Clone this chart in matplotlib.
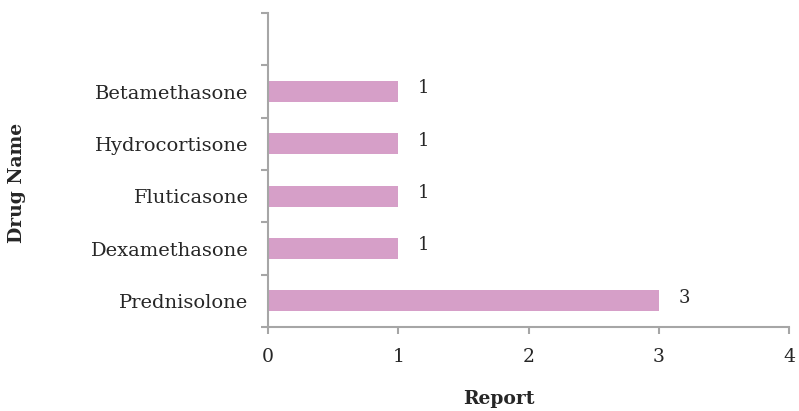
import matplotlib
matplotlib.use('Agg')
import matplotlib.pyplot as plt
from matplotlib.ticker import MultipleLocator

# drug report counts, bottom to top
drugs = ['Prednisolone', 'Dexamethasone', 'Fluticasone', 'Hydrocortisone', 'Betamethasone']
reports = [3, 1, 1, 1, 1]

bar_color = '#D69FC8'
axis_color = '#A6A6A6'
text_color = '#262626'

plt.rcParams['font.family'] = ['DejaVu Serif']

fig = plt.figure(figsize=(7.99, 4.11), dpi=100)
ax = fig.add_axes([268/799, 1 - 327/411, 521/799, 314/411])

pos = list(range(len(drugs)))
ax.barh(pos, reports, height=0.4, color=bar_color, edgecolor='none')

# value labels to the right of each bar
for y, v in zip(pos, reports):
    ax.text(v + 0.15, y + 0.06, str(v), va='center', ha='left', fontsize=13, color=text_color)

ax.set_xlim(0, 4)
ax.set_ylim(-0.5, 5.5)
ax.xaxis.set_major_locator(MultipleLocator(1))

# y ticks sit on the category boundaries, labels in between
ax.set_yticks([p - 0.5 for p in range(len(drugs) + 2)])
ax.set_yticklabels([])
ax.set_yticks(pos, minor=True)
ax.set_yticklabels(drugs, minor=True)
ax.tick_params(axis='y', which='minor', length=0, pad=14, labelsize=14, labelcolor=text_color)
ax.tick_params(axis='y', which='major', length=5, width=1.5, color=axis_color)
ax.tick_params(axis='x', length=5, width=1.5, color=axis_color, pad=10, labelsize=13.5, labelcolor=text_color)

for side in ['top', 'right']:
    ax.spines[side].set_visible(False)
for side in ['left', 'bottom']:
    ax.spines[side].set_color(axis_color)
    ax.spines[side].set_linewidth(1.5)

ax.set_xlabel('Report', fontsize=13.5, fontweight='bold', color=text_color)
ax.xaxis.set_label_coords((499 - 268) / 521, -(390 - 327) / 314)
ax.set_ylabel('Drug Name', fontsize=13.5, fontweight='bold', color=text_color)
ax.yaxis.set_label_coords(-(268 - 26) / 521, (327 - 183) / 314)

fig.savefig('out.png', dpi=100)
